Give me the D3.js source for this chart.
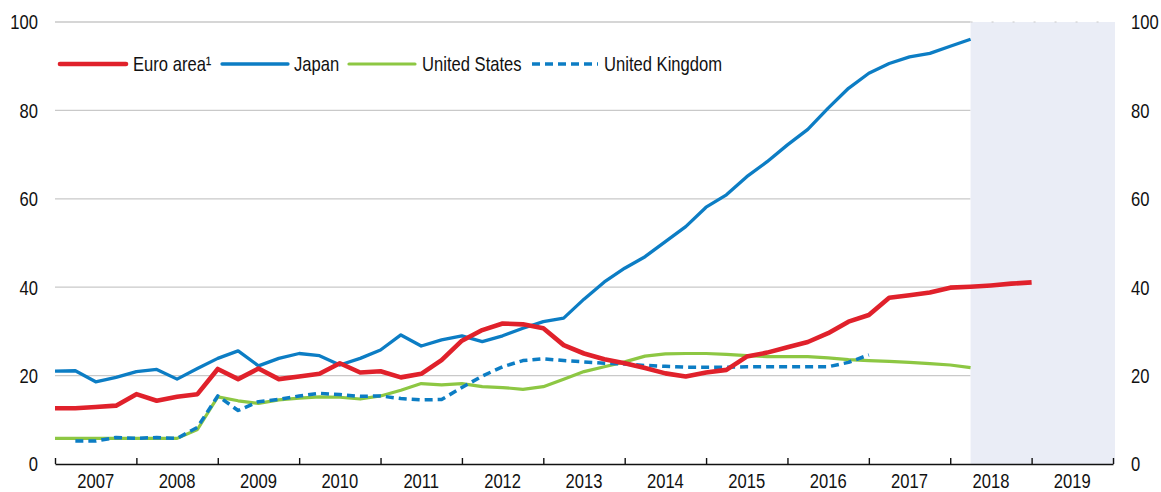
<!DOCTYPE html>
<html>
<head>
<meta charset="utf-8">
<script src="https://cdn.jsdelivr.net/npm/d3@7"></script>
<style>
  html, body { margin: 0; padding: 0; background: #fff; }
  svg { display: block; }
  text { fill: #111; }
</style>
</head>
<body>
<svg id="chart" width="1161" height="492"></svg>
<script>
// ---- data (quarterly, starting 2007 Q1) ----
const startYear = 2007;
const endYear = 2020;
const projectionStart = 2018.25;
const yearLabels = ["2007","2008","2009","2010","2011","2012","2013","2014","2015","2016","2017","2018","2019"];
const yTicks = [0, 20, 40, 60, 80, 100];

const euroArea = [12.6,12.6,12.9,13.2,15.8,14.3,15.2,15.8,21.5,19.2,21.6,19.2,19.8,20.4,22.8,20.7,21.0,19.6,20.4,23.5,27.9,30.3,31.8,31.6,30.7,26.9,25.0,23.7,22.8,21.7,20.5,19.8,20.7,21.3,24.3,25.2,26.4,27.6,29.6,32.2,33.7,37.6,38.2,38.8,39.9,40.1,40.4,40.8,41.1];
const japan = [21.0,21.1,18.6,19.6,20.9,21.4,19.2,21.6,23.9,25.6,22.2,23.9,25.0,24.5,22.4,23.9,25.8,29.2,26.7,28.1,29.0,27.7,29.0,30.7,32.2,33.0,37.3,41.2,44.3,46.9,50.3,53.7,58.1,60.9,65.0,68.4,72.2,75.7,80.5,85.0,88.4,90.6,92.1,92.9,94.5,96.1];
const unitedStates = [5.8,5.8,5.8,5.8,5.8,5.8,5.8,7.8,15.2,14.3,13.7,14.5,14.9,15.2,15.1,14.7,15.4,16.7,18.2,17.9,18.2,17.5,17.3,16.9,17.5,19.2,20.9,22.0,23.1,24.4,24.9,25.0,25.0,24.8,24.5,24.3,24.3,24.3,24.0,23.6,23.4,23.2,23.0,22.7,22.4,21.8];
const unitedKingdom = [null,5.2,5.2,6.0,5.8,6.0,5.8,8.3,15.4,12.1,14.1,14.6,15.4,16.0,15.7,15.3,15.4,14.8,14.5,14.6,17.3,19.9,22.0,23.4,23.8,23.4,23.1,22.8,22.6,22.3,22.1,21.9,21.9,21.9,22.0,22.0,22.0,22.0,22.0,23.0,24.7];

const seriesNames = ["Euro area\u00B9", "Japan", "United States", "United Kingdom"];

// ---- layout ----
const svg = d3.select("#chart");
const plotLeft = 55, plotRight = 1113, plotTop = 22, plotBottom = 464;

// font: narrow sans if available, otherwise vertically stretched regular sans
const probe = svg.append("text").attr("font-size", 20).text("United Kingdom 2007");
probe.attr("font-family", "'Liberation Sans'");
const wRegular = probe.node().getComputedTextLength();
probe.attr("font-family", "'Liberation Sans Narrow', 'Arial Narrow', 'Liberation Sans'");
const wNarrow = probe.node().getComputedTextLength();
probe.remove();
const hasNarrow = wNarrow < wRegular * 0.9;
const fontFamily = hasNarrow ? "'Liberation Sans Narrow', 'Arial Narrow', sans-serif" : "'Liberation Sans', Arial, sans-serif";
const fontSize = hasNarrow ? 20.3 : 16.6;
const vStretch = hasNarrow ? 1 : 1.24;

function addText(sel, tx, ty, str, anchor) {
  return sel.append("text")
    .attr("transform", `translate(${tx},${ty}) scale(1,${vStretch})`)
    .attr("font-family", fontFamily)
    .attr("font-size", fontSize)
    .attr("text-anchor", anchor)
    .attr("dy", "0.36em")
    .text(str);
}

const x = d3.scaleLinear().domain([startYear, endYear]).range([plotLeft, plotRight]);
const y = d3.scaleLinear().domain([0, 100]).range([plotBottom, plotTop]);

const toPoints = arr => arr.map((v, i) => ({ t: startYear + i / 4, v }));

const series = [
  { name: seriesNames[0], data: toPoints(euroArea), color: "#E0212B", width: 4.6, dash: null },
  { name: seriesNames[1], data: toPoints(japan), color: "#0C7DC4", width: 3.3, dash: null },
  { name: seriesNames[2], data: toPoints(unitedStates), color: "#8DC743", width: 3.2, dash: null },
  { name: seriesNames[3], data: toPoints(unitedKingdom), color: "#0C7DC4", width: 3.5, dash: "8,5" }
];

// gridlines (not through shaded area)
svg.append("g").selectAll("line")
  .data(yTicks.filter(d => d > 0))
  .join("line")
  .attr("x1", plotLeft).attr("x2", x(projectionStart))
  .attr("y1", d => y(d)).attr("y2", d => y(d))
  .attr("stroke", "#c9c9c9").attr("stroke-width", 1.3);

// projection shading
svg.append("rect")
  .attr("x", x(projectionStart)).attr("y", y(100))
  .attr("width", x(endYear) + 2 - x(projectionStart)).attr("height", y(0) - y(100))
  .attr("fill", "#EAEDF6");

svg.append("line")
  .attr("x1", x(projectionStart)).attr("x2", x(endYear) + 2)
  .attr("y1", y(100)).attr("y2", y(100))
  .attr("stroke", "#c9c9c9").attr("stroke-width", 1).attr("stroke-dasharray", "2,19");

// y labels left and right
const gyl = svg.append("g");
yTicks.forEach(d => addText(gyl, 38, y(d), d, "end"));
const gyr = svg.append("g");
yTicks.forEach(d => addText(gyr, 1131, y(d), d, "start"));

// lines
const line = d3.line()
  .defined(d => d.v !== null)
  .x(d => x(d.t)).y(d => y(d.v));

const drawOrder = [1, 2, 3, 0];
drawOrder.forEach(i => {
  const s = series[i];
  svg.append("path")
    .datum(s.data)
    .attr("d", line)
    .attr("fill", "none")
    .attr("stroke", s.color)
    .attr("stroke-width", s.width)
    .attr("stroke-linejoin", "round")
    .attr("stroke-dasharray", s.dash);
});

// x axis
const xAxis = d3.axisBottom(x)
  .tickValues(d3.range(startYear, endYear + 1))
  .tickSize(-6).tickSizeOuter(0).tickFormat("");
const gx = svg.append("g").attr("transform", `translate(0,${plotBottom})`).call(xAxis);
gx.select(".domain").attr("stroke", "#111").attr("stroke-width", 1.4);
gx.selectAll(".tick line").attr("stroke", "#111").attr("stroke-width", 1.4);

const gxl = svg.append("g");
yearLabels.forEach(d => addText(gxl, x(+d + 0.5), 481, d, "middle"));

// legend
const legendItems = [
  { s: series[0], lx: 60, tx: 133 },
  { s: series[1], lx: 222, tx: 294 },
  { s: series[2], lx: 349, tx: 422 },
  { s: series[3], lx: 532, tx: 604 }
];
const lg = svg.append("g");
legendItems.forEach(it => {
  lg.append("line")
    .attr("x1", it.lx).attr("x2", it.lx + 66)
    .attr("y1", 64).attr("y2", 64)
    .attr("stroke", it.s.color)
    .attr("stroke-width", it.s.width)
    .attr("stroke-linecap", it.s.dash ? "butt" : "round")
    .attr("stroke-dasharray", it.s.dash);
  addText(lg, it.tx, 64, it.s.name, "start");
});
</script>
</body>
</html>
